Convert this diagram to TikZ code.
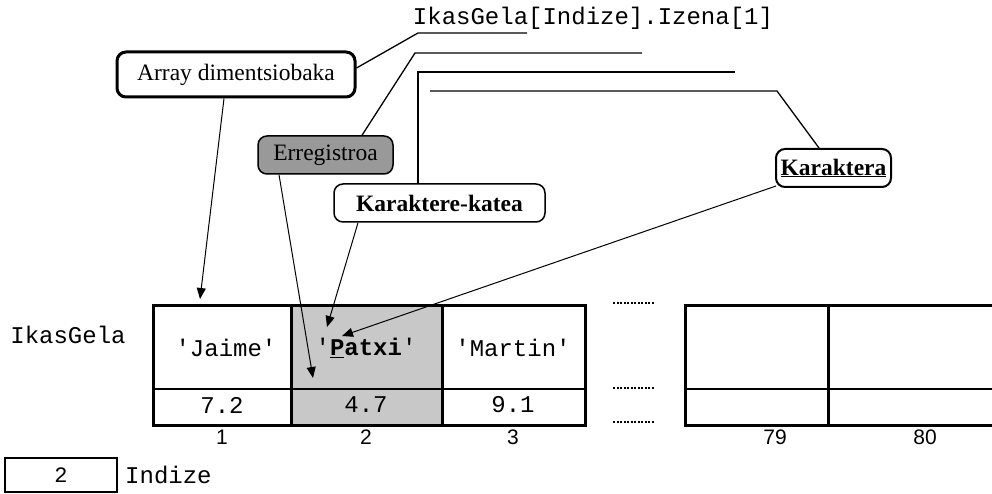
\documentclass[tikz,border=0pt]{standalone}
\usepackage{fontspec}
\setmainfont{Liberation Serif}
\setmonofont{Liberation Mono}
\setsansfont{Liberation Sans}
\usetikzlibrary{arrows.meta}
\definecolor{cellgray}{RGB}{200,200,200}
\definecolor{boxgray}{RGB}{153,153,153}
\begin{document}
\begin{tikzpicture}[x=1pt,y=-1pt,
  lbl/.style={draw, rounded corners=9pt, inner sep=0pt, font=\fontsize{23.5}{28}\selectfont},
  mono/.style={inner sep=0pt, font=\fontsize{24}{28}\selectfont\ttfamily},
  num/.style={inner sep=0pt, font=\fontsize{21}{25}\selectfont\sffamily},
  leader/.style={line width=1.3pt},
  ptr/.style={line width=1pt, -{Triangle[length=11pt,width=9pt]}},
  thick3/.style={line width=3pt},
  dots/.style={line width=2.6pt, dash pattern=on 2pt off 1.5pt}]
\useasboundingbox (0,0) rectangle (992,494);

% top expression
\node[mono] (expr) at (593,18) {IkasGela[Indize].Izena[1]};

% label boxes
\node[lbl, line width=3pt, minimum width=238pt, minimum height=45pt] (arr) at (236,74.5) {Array dimentsiobaka};
\node[lbl, line width=1.5pt, fill=boxgray, minimum width=135pt, minimum height=38pt] (erreg) at (325.5,155) {Erregistroa};
\node[lbl, line width=1.5pt, minimum width=211pt, minimum height=38pt] (kk) at (439.5,203) {\textbf{Karaktere-katea}};
\node[lbl, line width=2pt, minimum width=115pt, minimum height=38pt] (kar) at (833.5,168) {\textbf{\underline{Karaktera}}};

% leader line ends
\coordinate (l1a) at (418,33); \coordinate (l1b) at (527,33);
\coordinate (l2a) at (415,53); \coordinate (l2b) at (642,53);
\coordinate (l3a) at (418,72); \coordinate (l3b) at (735,72);
\coordinate (l4a) at (777,91); \coordinate (l4b) at (430,91);
\draw[leader] ([yshift=6.5pt]arr.east) -- (l1a) -- (l1b);
\draw[leader] ([xshift=36.5pt]erreg.north) -- (l2a) -- (l2b);
\draw[leader] ([xshift=-21.5pt]kk.north) -- (l3a) -- (l3b);
\draw[leader] ([xshift=-14.5pt]kar.north) -- (l4a) -- (l4b);

% table
\fill[cellgray] (291,305) rectangle (442,425);
\draw[line width=1.3pt] (153,389) -- (585,389);
\draw[thick3] (291,305) -- (291,425);
\draw[thick3] (442,305) -- (442,425);
\draw[thick3] (153,305) rectangle (585,425);

% second table (cut at right)
\draw[line width=1.3pt] (685,389) -- (992,389);
\draw[thick3] (828,305) -- (828,425);
\draw[thick3] (992,305) -- (685,305) -- (685,425) -- (992,425);

% dotted gaps
\coordinate (d1a) at (613,303); \coordinate (d1b) at (655,303);
\coordinate (d2a) at (613,388); \coordinate (d2b) at (655,388);
\coordinate (d3a) at (613,422); \coordinate (d3b) at (655,422);
\draw[dots] (d1a) -- (d1b);
\draw[dots] (d2a) -- (d2b);
\draw[dots] (d3a) -- (d3b);

% cell texts
\node[mono] (ikas) at (68,335) {IkasGela};
\node[mono] (c1) at (226,348) {'Jaime'};
\node[mono] (c2) at (366,348) {'\textbf{\underline{P}atxi}'};
\node[mono] (c3) at (513,348) {'Martin'};
\node[mono] (v1) at (222,405) {7.2};
\node[mono] (v2) at (366,405) {4.7};
\node[mono] (v3) at (513,405) {9.1};
\node[num] (n1) at (222,437) {1};
\node[num] (n2) at (366,437) {2};
\node[num] (n3) at (513,437) {3};
\node[num] (n79) at (775,437) {79};
\node[num] (n80) at (925,437) {80};

% index variable
\node[mono, draw, line width=2.5pt, minimum width=112pt, minimum height=34pt, font=\fontsize{22}{26}\selectfont\ttfamily] (idx) at (61,475) {2};
\node[mono, anchor=west] (idxl) at (125,475) {Indize};

% pointer arrows
\coordinate (t1) at (200,299);
\coordinate (t2) at (313,378);
\coordinate (t3) at (327,327);
\coordinate (t4) at (342,336);
\draw[ptr] ([xshift=-12pt]arr.south) -- (t1);
\draw[ptr] ([xshift=-46.5pt]erreg.south) -- (t2);
\draw[ptr] ([xshift=-81.5pt]kk.south) -- (t3);
\draw[ptr] ([xshift=1pt,yshift=2pt]kar.south west) -- (t4);
\end{tikzpicture}
\end{document}
